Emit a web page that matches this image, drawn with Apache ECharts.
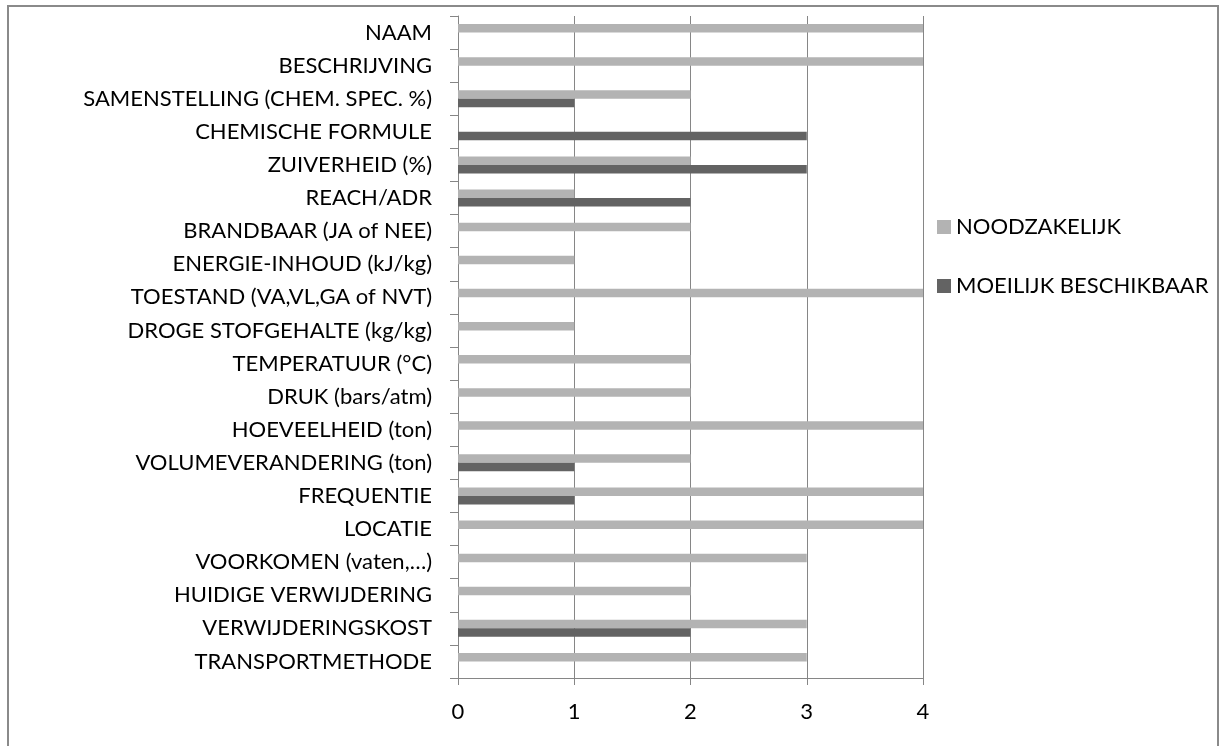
<!DOCTYPE html>
<html>
<head>
<meta charset="utf-8">
<script src="https://cdn.jsdelivr.net/npm/echarts@6/dist/echarts.min.js"></script>
<style>
html,body{margin:0;padding:0;background:#fff;}
#c{width:1230px;height:746px;}
</style>
</head>
<body>
<div id="c"></div>
<script>
const categories = [
  'NAAM','BESCHRIJVING','SAMENSTELLING (CHEM. SPEC. %)','CHEMISCHE FORMULE','ZUIVERHEID (%)',
  'REACH/ADR','BRANDBAAR (JA of NEE)','ENERGIE-INHOUD (kJ/kg)','TOESTAND (VA,VL,GA of NVT)',
  'DROGE STOFGEHALTE (kg/kg)','TEMPERATUUR (°C)','DRUK (bars/atm)','HOEVEELHEID (ton)',
  'VOLUMEVERANDERING (ton)','FREQUENTIE','LOCATIE','VOORKOMEN (vaten,…)','HUIDIGE VERWIJDERING',
  'VERWIJDERINGSKOST','TRANSPORTMETHODE'
];
const noodzakelijk = [4,4,2,0,2,1,2,1,4,1,2,2,4,2,4,4,3,2,3,3];
const moeilijk     = [0,0,1,3,3,2,0,0,0,0,0,0,0,1,1,0,0,0,2,0];
const xTicks = [0,1,2,3,4];

const FONT = 'Lato';
const chart = echarts.init(document.getElementById('c'), null, {renderer:'canvas'});
chart.setOption({
  animation: false,
  backgroundColor: '#fff',
  textStyle: {fontFamily: FONT},
  graphic: [{
    type: 'rect', silent: true, z: -1,
    shape: {x: 8, y: 6, width: 1210, height: 760},
    style: {fill: 'none', stroke: '#8a8a8a', lineWidth: 2}
  }],
  grid: {left: 458, right: 307, top: 16, bottom: 68, containLabel: false},
  legend: {
    orient: 'vertical', left: 932, top: 211,
    itemWidth: 14, itemHeight: 14, itemGap: 37,
    icon: 'rect',
    textStyle: {fontFamily: FONT, fontSize: 22, color: '#000'},
    data: ['NOODZAKELIJK','MOEILIJK BESCHIKBAAR']
  },
  xAxis: {
    type: 'value', min: xTicks[0], max: xTicks[xTicks.length-1], interval: 1,
    axisLine: {show: true, lineStyle: {color: '#868686', width: 1}},
    axisTick: {show: true, length: 7, lineStyle: {color: '#868686'}},
    splitLine: {show: true, lineStyle: {color: '#868686', width: 1}},
    axisLabel: {fontFamily: FONT, fontSize: 22, color: '#000', margin: 23}
  },
  yAxis: {
    type: 'category', inverse: true, data: categories,
    axisLine: {show: true, lineStyle: {color: '#868686', width: 1}},
    axisTick: {show: true, length: 8, lineStyle: {color: '#868686'}},
    axisLabel: {fontFamily: FONT, fontSize: 22, color: '#000', margin: 26, interval: 0}
  },
  series: [
    {name: 'NOODZAKELIJK', type: 'bar', data: noodzakelijk, barWidth: 8.5, barGap: '0%',
     itemStyle: {color: '#B3B3B3'}},
    {name: 'MOEILIJK BESCHIKBAAR', type: 'bar', data: moeilijk, barWidth: 8.5, barGap: '0%',
     itemStyle: {color: '#636363'}}
  ]
});
</script>
</body>
</html>
